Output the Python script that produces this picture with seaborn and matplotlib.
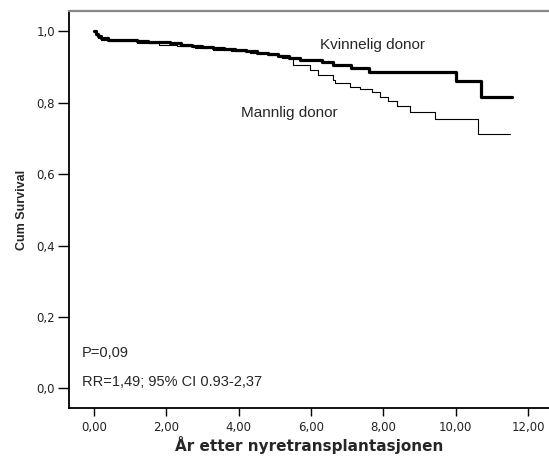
"""
Kaplan-Meier kurve: overlevelse etter nyretransplantasjon, kvinnelig vs mannlig donor
"""
import numpy as np
import pandas as pd
import matplotlib.pyplot as plt
import matplotlib
import seaborn as sns

# data (trinnpunkter, steps-post)
kvinne_tid = [0, 0.05, 0.1, 0.2, 0.4, 0.8, 1.2, 1.5, 1.8, 2.1, 2.4, 2.7, 3.0,
              3.3, 3.6, 3.9, 4.2, 4.5, 4.8, 5.1, 5.4, 5.7, 6.3, 6.6, 7.1, 7.6,
              10.0, 10.7, 11.55]
kvinne_surv = [1.0, 0.993, 0.986, 0.980, 0.977, 0.975, 0.973, 0.971, 0.969,
               0.966, 0.963, 0.960, 0.957, 0.954, 0.951, 0.948, 0.944, 0.940,
               0.936, 0.931, 0.926, 0.920, 0.915, 0.905, 0.896, 0.886, 0.862,
               0.817, 0.817]

mann_tid = [0, 0.05, 0.1, 0.2, 0.5, 1.2, 1.8, 2.3, 2.8, 3.3, 3.8, 4.3, 4.8,
            5.2, 5.51, 5.97, 6.2, 6.62, 6.66, 7.08, 7.35, 7.68, 7.91, 8.14,
            8.37, 8.74, 9.43, 10.63, 11.5]
mann_surv = [1.0, 0.99, 0.982, 0.976, 0.972, 0.968, 0.962, 0.958, 0.953,
             0.948, 0.944, 0.940, 0.934, 0.924, 0.907, 0.893, 0.879, 0.865,
             0.854, 0.845, 0.839, 0.830, 0.817, 0.804, 0.790, 0.773, 0.755,
             0.713, 0.713]

x_ticks = [0, 2, 4, 6, 8, 10, 12]
y_ticks = [0.0, 0.2, 0.4, 0.6, 0.8, 1.0]

sns.set_theme(style="white")
plt.rcParams['font.family'] = ['Liberation Sans', 'DejaVu Sans']

fig = plt.figure(figsize=(5.49, 4.57), dpi=100)
ax = fig.add_axes([0.1257, 0.107, 0.8743, 0.869])

df_k = pd.DataFrame({'tid': kvinne_tid, 'surv': kvinne_surv})
df_m = pd.DataFrame({'tid': mann_tid, 'surv': mann_surv})

sns.lineplot(data=df_m, x='tid', y='surv', ax=ax, color='black', linewidth=0.8,
             drawstyle='steps-post', estimator=None, sort=False)
sns.lineplot(data=df_k, x='tid', y='surv', ax=ax, color='black', linewidth=2.3,
             drawstyle='steps-post', estimator=None, sort=False)

ax.set_xlim(-0.69, 12.58)
ax.set_ylim(-0.055, 1.057)
ax.set_xticks(x_ticks)
ax.set_xticklabels([f"{v:.2f}".replace('.', ',') for v in x_ticks], fontsize=8.5,
                   color='#222222', family='DejaVu Sans')
ax.set_yticks(y_ticks)
ax.set_yticklabels([f"{v:.1f}".replace('.', ',') for v in y_ticks], fontsize=8.5,
                   color='#222222', family='DejaVu Sans')
ax.tick_params(axis='y', direction='out', length=8, width=1, color='black',
               left=True, pad=2)
ax.tick_params(axis='x', direction='out', length=6, width=1, color='black',
               bottom=True, pad=3)

ax.set_xlabel('År etter nyretransplantasjonen', fontsize=11, fontweight='bold',
              labelpad=1.5, family='DejaVu Sans')
ax.set_ylabel('Cum Survival', fontsize=9, fontweight='bold', labelpad=6)

for side in ['left', 'bottom']:
    ax.spines[side].set_color('black')
    ax.spines[side].set_linewidth(1.3)
ax.spines['top'].set_color('#888888')
ax.spines['top'].set_linewidth(1.6)
ax.spines['right'].set_visible(False)

ax.text(6.25, 0.962, 'Kvinnelig donor', fontsize=11, va='center', ha='left')
ax.text(4.06, 0.771, 'Mannlig donor', fontsize=11, va='center', ha='left')
ax.text(-0.33, 0.099, 'P=0,09', fontsize=10.5, va='center', ha='left')
ax.text(-0.33, 0.018, 'RR=1,49; 95% CI 0.93-2,37', fontsize=10.5, va='center',
        ha='left')

fig.savefig('out.png', dpi=100)
plt.close(fig)
